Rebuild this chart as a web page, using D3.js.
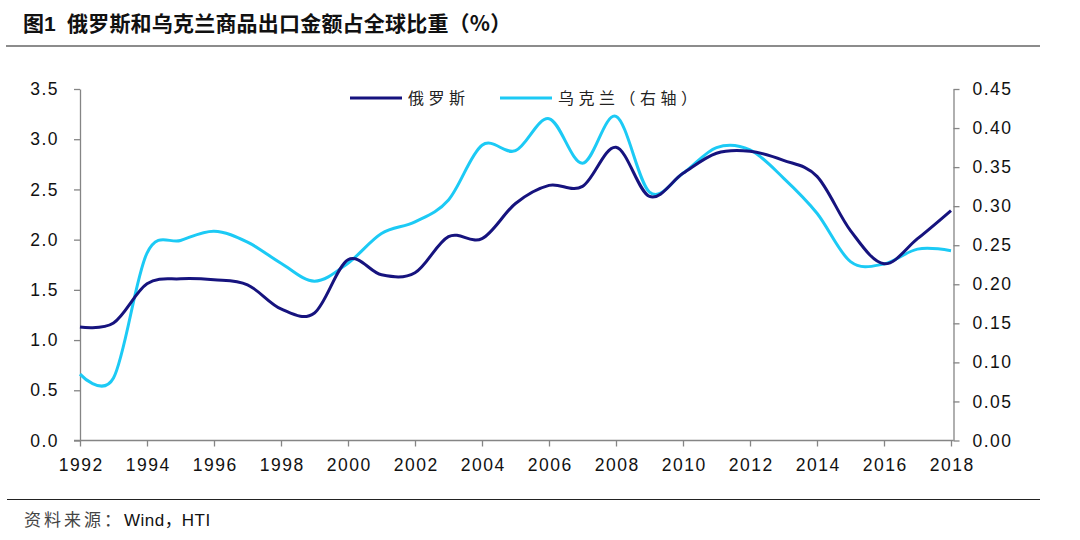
<!DOCTYPE html>
<html><head><meta charset="utf-8">
<script src="https://cdn.jsdelivr.net/npm/d3@7"></script>
<style>
html,body{margin:0;padding:0;background:#fff;}
svg{display:block;}
</style></head>
<body>
<svg id="chart" width="1080" height="540"></svg>
<script>
const years = [1992,1993,1994,1995,1996,1997,1998,1999,2000,2001,2002,2003,2004,2005,2006,2007,2008,2009,2010,2011,2012,2013,2014,2015,2016,2017,2018];
const russia = [1.13,1.17,1.56,1.61,1.60,1.55,1.31,1.27,1.80,1.65,1.67,2.03,2.01,2.36,2.54,2.53,2.92,2.43,2.66,2.86,2.88,2.79,2.63,2.09,1.76,2.01,2.29];
const ukraine = [0.085,0.080,0.240,0.256,0.268,0.254,0.227,0.204,0.227,0.265,0.280,0.308,0.378,0.371,0.412,0.355,0.415,0.318,0.342,0.375,0.372,0.336,0.291,0.229,0.226,0.245,0.243];
const leftTicks = [0,0.5,1.0,1.5,2.0,2.5,3.0,3.5];
const rightTicks = [0,0.05,0.10,0.15,0.20,0.25,0.30,0.35,0.40,0.45];
const xTicks = [1992,1994,1996,1998,2000,2002,2004,2006,2008,2010,2012,2014,2016,2018];
const seriesNames = ["俄罗斯","乌克兰（右轴）"];
const colors = ["#16137e","#1ccaf5"];
const titleText = "俄罗斯和乌克兰商品出口金额占全球比重（%）";
const sourceParts = ["资料来源：","Wind","，","HTI"];

const svg = d3.select("#chart");
const axisColor = "#858585";
const numFont = "'Liberation Sans', Arial, sans-serif";
const cjkFont = "'Noto Sans CJK SC', sans-serif";

const x = d3.scaleLinear().domain([1992,2018]).range([80,951]);
const yL = d3.scaleLinear().domain([0,3.5]).range([440.5,89]);
const yR = d3.scaleLinear().domain([0,0.45]).range([440.5,89]);

// title
const t = svg.append("text").attr("x",23).attr("y",31)
  .attr("font-family",cjkFont).attr("font-weight","bold").attr("font-size",21).attr("fill","#111");
t.append("tspan").text("图");
t.append("tspan").attr("font-family",numFont).attr("font-weight","bold").text("1");
t.append("tspan").attr("x",67).attr("letter-spacing",0.2).text(titleText);

svg.append("line").attr("x1",6).attr("x2",1040).attr("y1",46).attr("y2",46)
  .attr("stroke","#8c8c8c").attr("stroke-width",2);
svg.append("line").attr("x1",7).attr("x2",1040).attr("y1",499.5).attr("y2",499.5)
  .attr("stroke","#222").attr("stroke-width",1);

const s = svg.append("text").attr("x",24).attr("y",526).attr("font-size",17);
s.append("tspan").attr("font-family",cjkFont).attr("fill","#444").attr("letter-spacing",3).text(sourceParts[0]);
s.append("tspan").attr("font-family",numFont).attr("fill","#111").attr("letter-spacing",0.5).text(sourceParts[1]);
s.append("tspan").attr("font-family",cjkFont).attr("fill","#111").text(sourceParts[2]);
s.append("tspan").attr("font-family",numFont).attr("fill","#111").attr("letter-spacing",0.5).text(sourceParts[3]);

// axes
const gL = svg.append("g").attr("transform","translate(80,0)")
  .call(d3.axisLeft(yL).tickValues(leftTicks).tickFormat(d3.format(".1f")).tickSize(6).tickSizeOuter(0).tickPadding(15));
const gR = svg.append("g").attr("transform","translate(953.5,0)")
  .call(d3.axisRight(yR).tickValues(rightTicks).tickFormat(d3.format(".2f")).tickSize(6).tickSizeOuter(0).tickPadding(13));
const gX = svg.append("g").attr("transform","translate(0,440.5)")
  .call(d3.axisBottom(x).tickValues(xTicks).tickFormat(d3.format("d")).tickSize(6).tickSizeOuter(0).tickPadding(12));
[gL,gR,gX].forEach(g=>{
  g.selectAll("path,line").attr("stroke",axisColor).attr("stroke-width",1.3);
  g.selectAll("text").attr("font-family",numFont).attr("font-size",17.5).attr("fill","#111").attr("letter-spacing",1.5);
});
gX.selectAll(".tick text").attr("dx",0.75);
gX.select("path.domain").attr("d","M74,0H953.5");

// lines
const curve = d3.curveCardinal.tension(0);
const lineL = d3.line().x((d,i)=>x(years[i])).y(d=>yL(d)).curve(curve);
const lineR = d3.line().x((d,i)=>x(years[i])).y(d=>yR(d)).curve(curve);
svg.append("path").datum(ukraine).attr("d",lineR).attr("fill","none")
  .attr("stroke",colors[1]).attr("stroke-width",3);
svg.append("path").datum(russia).attr("d",lineL).attr("fill","none")
  .attr("stroke",colors[0]).attr("stroke-width",3);

// legend
const leg = [{x1:350,x2:402,tx:408},{x1:500,x2:552,tx:558}];
leg.forEach((l,i)=>{
  svg.append("line").attr("x1",l.x1).attr("x2",l.x2).attr("y1",98).attr("y2",98)
    .attr("stroke",colors[i]).attr("stroke-width",3);
  svg.append("text").attr("x",l.tx).attr("y",104).attr("font-family",cjkFont)
    .attr("font-size",16).attr("letter-spacing",4.5).attr("fill","#222").text(seriesNames[i]);
});
</script>
</body></html>
